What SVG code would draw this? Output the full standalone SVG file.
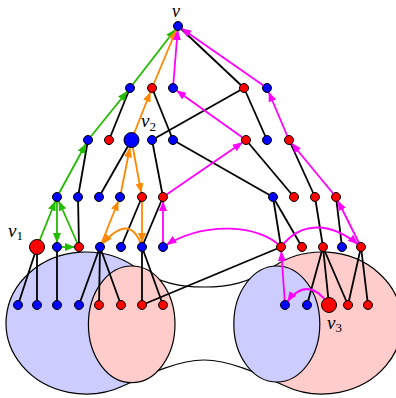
<svg xmlns="http://www.w3.org/2000/svg" width="396" height="398" viewBox="0 0 396 398">
<style>
.bg{fill:#ffffff}
.ell{stroke:#000;stroke-width:1.2}
.blue-reg{fill:#ccccff}
.pink-reg{fill:#ffcccc}
.outline{fill:none;stroke:#000;stroke-width:1.2}
.e{stroke:#000;stroke-width:1.8;fill:none}
.g{stroke:#22bb00;stroke-width:1.8;fill:none;marker-end:url(#ag)}
.o{stroke:#ff8800;stroke-width:1.8;fill:none;marker-end:url(#ao)}
.ob{stroke:#ff8800;stroke-width:1.8;fill:none;marker-end:url(#aob)}
.m{stroke:#ff00ff;stroke-width:1.8;fill:none;marker-end:url(#am)}
.nb{fill:#0000ff;stroke:#000;stroke-width:1}
.nr{fill:#ff0000;stroke:#000;stroke-width:1}
.lab{font-family:'Liberation Serif','DejaVu Serif',serif;font-style:italic;font-size:19px;fill:#000}
.top{font-size:18px}
.sub{font-style:normal;font-size:13px}
</style>
<defs>
<marker id="ag" markerUnits="userSpaceOnUse" markerWidth="10" markerHeight="8" refX="14" refY="4" orient="auto"><path d="M0,0 L10,4 L0,8 Z" fill="#22bb00"/></marker>
<marker id="ao" markerUnits="userSpaceOnUse" markerWidth="10" markerHeight="8" refX="14" refY="4" orient="auto"><path d="M0,0 L10,4 L0,8 Z" fill="#ff8800"/></marker>
<marker id="aob" markerUnits="userSpaceOnUse" markerWidth="10" markerHeight="8" refX="17.5" refY="4" orient="auto"><path d="M0,0 L10,4 L0,8 Z" fill="#ff8800"/></marker>
<marker id="am" markerUnits="userSpaceOnUse" markerWidth="10" markerHeight="8" refX="14" refY="4" orient="auto"><path d="M0,0 L10,4 L0,8 Z" fill="#ff00ff"/></marker>
</defs>
<rect class="bg" x="0" y="0" width="396" height="398"/>
<g id="surface">
<ellipse class="blue-reg" cx="86" cy="323" rx="80" ry="71"/>
<path class="outline" d="M134,266.2 A80,71 0 1 0 124,385.5"/>
<ellipse class="pink-reg" cx="322" cy="323" rx="80" ry="71"/>
<path class="outline" d="M274,266.2 A80,71 0 1 1 284,385.5"/>
<path class="outline" d="M134,266.2 C160,283.5 180,287 204,287 C228,287 248,283.5 274,266.2"/>
<path class="outline" d="M124,385.5 C150,373 180,360 204,360 C228,360 258,373 284,385.5"/>
<ellipse class="ell pink-reg" cx="131.7" cy="324.3" rx="43.3" ry="58.3"/>
<ellipse class="ell blue-reg" cx="276.8" cy="324" rx="43" ry="58"/>
</g>
<g id="connectors">
<line class="e" x1="178" y1="26" x2="244" y2="88"/>
<line class="e" x1="130" y1="88" x2="109" y2="140"/>
<line class="e" x1="152" y1="88" x2="173" y2="140"/>
<line class="e" x1="244" y1="88" x2="152" y2="140"/>
<line class="e" x1="244" y1="88" x2="267" y2="140"/>
<line class="e" x1="88" y1="140" x2="78" y2="197"/>
<line class="e" x1="131.5" y1="140" x2="99" y2="197"/>
<line class="e" x1="152" y1="140" x2="163" y2="197"/>
<line class="e" x1="173" y1="140" x2="273" y2="197"/>
<line class="e" x1="246" y1="140" x2="294" y2="197"/>
<line class="e" x1="289" y1="140" x2="315" y2="197"/>
<line class="e" x1="78" y1="197" x2="79" y2="247"/>
<line class="e" x1="142" y1="197" x2="121" y2="247"/>
<line class="e" x1="163" y1="197" x2="142" y2="247"/>
<line class="e" x1="273" y1="197" x2="281" y2="247"/>
<line class="e" x1="273" y1="197" x2="302" y2="247"/>
<line class="e" x1="315" y1="197" x2="323" y2="247"/>
<line class="e" x1="336" y1="197" x2="342" y2="247"/>
<line class="e" x1="37" y1="247" x2="18" y2="305"/>
<line class="e" x1="37" y1="247" x2="37" y2="305"/>
<line class="e" x1="57" y1="247" x2="57" y2="305"/>
<line class="e" x1="100" y1="247" x2="79" y2="305"/>
<line class="e" x1="100" y1="247" x2="99" y2="305"/>
<line class="e" x1="100" y1="247" x2="121" y2="305"/>
<line class="e" x1="142" y1="247" x2="142" y2="305"/>
<line class="e" x1="142" y1="247" x2="163" y2="305"/>
<line class="e" x1="142" y1="305" x2="281" y2="247"/>
<line class="e" x1="323" y1="247" x2="307" y2="305"/>
<line class="e" x1="323" y1="247" x2="329" y2="305"/>
<line class="e" x1="323" y1="247" x2="348" y2="305"/>
<line class="e" x1="361" y1="247" x2="348" y2="305"/>
<line class="e" x1="361" y1="247" x2="368" y2="305"/>
<line class="g" x1="130" y1="88" x2="178" y2="26"/>
<line class="g" x1="88" y1="140" x2="130" y2="88"/>
<line class="g" x1="57" y1="197" x2="88" y2="140"/>
<line class="g" x1="37" y1="247" x2="57" y2="197"/>
<line class="g" x1="57" y1="197" x2="57" y2="247"/>
<line class="g" x1="57" y1="247" x2="79" y2="247"/>
<line class="g" x1="79" y1="247" x2="57" y2="197"/>
<line class="o" x1="152" y1="88" x2="178" y2="26"/>
<line class="o" x1="131.5" y1="140" x2="152" y2="88"/>
<line class="ob" x1="120" y1="197" x2="131.5" y2="140"/>
<line class="o" x1="131.5" y1="140" x2="142" y2="197"/>
<line class="o" x1="142" y1="197" x2="142" y2="247"/>
<path class="o" d="M142,247 Q130,210 100,247"/>
<line class="o" x1="100" y1="247" x2="120" y2="197"/>
<line class="m" x1="173" y1="88" x2="178" y2="26"/>
<line class="m" x1="267" y1="88" x2="178" y2="26"/>
<line class="m" x1="246" y1="140" x2="173" y2="88"/>
<line class="m" x1="289" y1="140" x2="267" y2="88"/>
<line class="m" x1="163" y1="197" x2="246" y2="140"/>
<line class="m" x1="336" y1="197" x2="289" y2="140"/>
<line class="m" x1="163" y1="247" x2="163" y2="197"/>
<line class="m" x1="361" y1="247" x2="336" y2="197"/>
<path class="m" d="M281,247 C260,225 205,220 163,247"/>
<path class="m" d="M281,247 C300,222 330,220 361,247"/>
<line class="m" x1="285" y1="305" x2="281" y2="247"/>
<path class="m" d="M329,305 Q307,273 285,305"/>
</g>
<g id="nodes">
<circle id="v" class="nb" cx="178" cy="26" r="4.5"/>
<circle id="b1" class="nb" cx="130" cy="88" r="4.5"/>
<circle id="b2" class="nr" cx="152" cy="88" r="4.5"/>
<circle id="b3" class="nb" cx="173" cy="88" r="4.5"/>
<circle id="b4" class="nr" cx="244" cy="88" r="4.5"/>
<circle id="b5" class="nb" cx="267" cy="88" r="4.5"/>
<circle id="c1" class="nb" cx="88" cy="140" r="4.5"/>
<circle id="c2" class="nr" cx="109" cy="140" r="4.5"/>
<circle id="v2" class="nb" cx="131.5" cy="140" r="7.5"/>
<circle id="c4" class="nb" cx="152" cy="140" r="4.5"/>
<circle id="c5" class="nb" cx="173" cy="140" r="4.5"/>
<circle id="c6" class="nr" cx="246" cy="140" r="4.5"/>
<circle id="c7" class="nb" cx="267" cy="140" r="4.5"/>
<circle id="c8" class="nr" cx="289" cy="140" r="4.5"/>
<circle id="d1" class="nb" cx="57" cy="197" r="4.5"/>
<circle id="d2" class="nb" cx="78" cy="197" r="4.5"/>
<circle id="d3" class="nb" cx="99" cy="197" r="4.5"/>
<circle id="d4" class="nb" cx="120" cy="197" r="4.5"/>
<circle id="d5" class="nr" cx="142" cy="197" r="4.5"/>
<circle id="d6" class="nr" cx="163" cy="197" r="4.5"/>
<circle id="d7" class="nb" cx="273" cy="197" r="4.5"/>
<circle id="d8" class="nr" cx="294" cy="197" r="4.5"/>
<circle id="d9" class="nr" cx="315" cy="197" r="4.5"/>
<circle id="d10" class="nr" cx="336" cy="197" r="4.5"/>
<circle id="v1" class="nr" cx="37" cy="247" r="7.5"/>
<circle id="e1" class="nb" cx="57" cy="247" r="4.5"/>
<circle id="e2" class="nr" cx="79" cy="247" r="4.5"/>
<circle id="e3" class="nb" cx="100" cy="247" r="4.5"/>
<circle id="e4" class="nb" cx="121" cy="247" r="4.5"/>
<circle id="e5" class="nb" cx="142" cy="247" r="4.5"/>
<circle id="e6" class="nb" cx="163" cy="247" r="4.5"/>
<circle id="e7" class="nr" cx="281" cy="247" r="4.5"/>
<circle id="e8" class="nr" cx="302" cy="247" r="4.5"/>
<circle id="e9" class="nr" cx="323" cy="247" r="4.5"/>
<circle id="e10" class="nb" cx="342" cy="247" r="4.5"/>
<circle id="e11" class="nr" cx="361" cy="247" r="4.5"/>
<circle id="f1" class="nb" cx="18" cy="305" r="4.5"/>
<circle id="f2" class="nb" cx="37" cy="305" r="4.5"/>
<circle id="f3" class="nb" cx="57" cy="305" r="4.5"/>
<circle id="f4" class="nb" cx="79" cy="305" r="4.5"/>
<circle id="f5" class="nr" cx="99" cy="305" r="4.5"/>
<circle id="f6" class="nr" cx="121" cy="305" r="4.5"/>
<circle id="f7" class="nr" cx="142" cy="305" r="4.5"/>
<circle id="f8" class="nr" cx="163" cy="305" r="4.5"/>
<circle id="f9" class="nb" cx="285" cy="305" r="4.5"/>
<circle id="f10" class="nb" cx="307" cy="305" r="4.5"/>
<circle id="v3" class="nr" cx="329" cy="305" r="7.5"/>
<circle id="f12" class="nr" cx="348" cy="305" r="4.5"/>
<circle id="f13" class="nr" cx="368" cy="305" r="4.5"/>
</g>
<g id="labels">
<text class="lab top" x="172" y="16.5">v</text>
<text class="lab" x="141" y="127">v<tspan class="sub" dy="4">2</tspan></text>
<text class="lab" x="8" y="237">v<tspan class="sub" dy="3">1</tspan></text>
<text class="lab" x="327" y="329">v<tspan class="sub" dy="3">3</tspan></text>
</g>
</svg>
